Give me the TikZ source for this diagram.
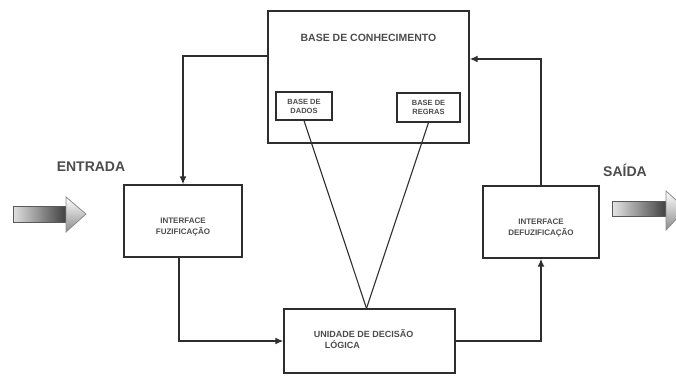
\documentclass[tikz,border=0pt]{standalone}
\usepackage{fontspec}
\setmainfont{Liberation Sans}
\usepackage{tikz}
\usetikzlibrary{positioning, arrows.meta}
\definecolor{fzline}{rgb}{0.18, 0.18, 0.18}
\definecolor{fztext}{rgb}{0.30, 0.30, 0.30}

\begin{document}
\begin{tikzpicture}[
  x=1pt, y=-1pt,
  font=\bfseries\color{fztext},
  box/.style={draw=fzline, line width=1.4pt, inner sep=0pt, align=center},
  small/.style={box, line width=1.2pt},
  conn/.style={draw=fzline, line width=1.4pt, -{Latex[length=8pt, width=7pt]}},
  link/.style={draw=fzline, line width=1.1pt},
  lab/.style={font=\bfseries\fontsize{7.5}{9}\selectfont, text=fztext, align=center},
  big/.style={font=\bfseries\fontsize{14}{16}\selectfont, text=fztext},
]
  \useasboundingbox (0,0) rectangle (676,375);

  % knowledge base with its two stores
  \node[box, minimum width=201pt, minimum height=132pt] (kb) at (368.5,77) {};
  \node[lab, font=\bfseries\fontsize{10.5}{12}\selectfont, below=20pt of kb.north] (kbtitle) {BASE DE CONHECIMENTO};
  \node[small, lab, minimum width=56pt, minimum height=28pt] (dados) at (304,106) {BASE DE\\DADOS};
  \node[small, lab, minimum width=63pt, minimum height=29pt] (regras) at (428.5,107.5) {BASE DE\\REGRAS};

  % interfaces and decision unit
  \node[box, minimum width=118pt, minimum height=72pt] (fuzz) at (183,221) {};
  \node[lab, font=\bfseries\fontsize{8}{11}\selectfont] (fuzztext) at ([yshift=-6pt]fuzz.center) {INTERFACE\\FUZIFICAÇÃO};
  \node[box, minimum width=116pt, minimum height=72pt] (defuzz) at (541,222) {};
  \node[lab, font=\bfseries\fontsize{8}{11}\selectfont] (defuzztext) at ([yshift=-6pt]defuzz.center) {INTERFACE\\DEFUZIFICAÇÃO};
  \node[box, minimum width=171pt, minimum height=64pt] (unit) at (369.5,341) {};
  \node[lab, font=\bfseries\fontsize{9}{10.5}\selectfont, align=left, anchor=north west] (unittext) at ([xshift=27pt, yshift=-18pt]unit.north west) {UNIDADE DE DECISÃO\\\hspace{11pt}LÓGICA};
  \coordinate (apex) at ([xshift=-3pt]unit.north);

  % inputs and outputs
  \node[big] (entrada) at (91,167) {ENTRADA};
  \node[big] (saida) at (625,170) {SAÍDA};

  \shade[left color=black!12, right color=black!75, draw=black!65, line width=0.8pt] (13,206) rectangle (66,222);
  \shade[top color=white, bottom color=black!45, draw=black!45, line width=0.8pt] (66,197) -- (86,214) -- (66,232) -- cycle;
  \shade[left color=black!10, right color=black!75, draw=black!65, line width=0.8pt] (612,201) rectangle (666,216);
  \shade[top color=white, bottom color=black!45, draw=black!45, line width=0.8pt] (666,191) -- (686,209) -- (666,230) -- cycle;

  % flow around the loop
  \draw[conn] ([yshift=21pt]kb.west) -| (fuzz.north);
  \draw[conn] ([xshift=-4pt]fuzz.south) |- (unit.west);
  \draw[conn] (unit.east) -| (defuzz.south);
  \draw[conn] (defuzz.north) |- ([yshift=18pt]kb.east);

  % stores feeding the decision unit
  \draw[link] (dados.south) -- (apex);
  \draw[link] (regras.south) -- (apex);
\end{tikzpicture}
\end{document}
